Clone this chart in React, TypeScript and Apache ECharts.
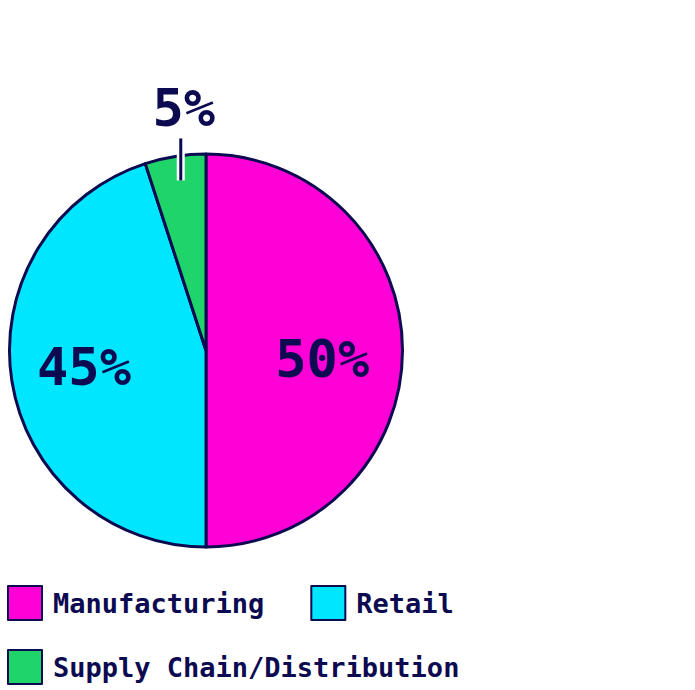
import React, { useEffect, useRef } from "react";
import * as echarts from "echarts";

const categories = ["Manufacturing", "Retail", "Supply Chain/Distribution"];
const values = [50, 45, 5];
const colors = ["#ff00d6", "#00e6ff", "#1fd56a"];
const legendRow1 = ["Manufacturing", "Retail"];
const legendRow2 = ["Supply Chain/Distribution"];
const NAVY = "#0c0a50";
const FONT = "DejaVu Sans Mono";

function makeData(mode: "base" | "white" | "top") {
  return categories.map((name, i) => ({
    name,
    value: values[i],
    itemStyle:
      mode === "base"
        ? { color: colors[i], borderColor: NAVY, borderWidth: 3 }
        : { color: "rgba(0,0,0,0)", borderWidth: 0 },
    label: { position: i === 2 ? "outside" : "inside" },
  }));
}

const layout = (p: any) => {
  if (p.dataIndex === 0) return { dx: 15, dy: 8 };
  if (p.dataIndex === 1) return { dx: -22, dy: 1 };
  const pts = p.labelLinePoints;
  if (!pts) return {};
  const x0 = pts[0][0];
  const y0 = pts[0][1];
  const lx = x0 + 5.5;
  return {
    x: x0 + 8.5,
    y: y0 - 48,
    align: "center",
    verticalAlign: "middle",
    labelLinePoints: [
      [lx, y0 + 24],
      [lx, y0],
      [lx, y0 - 18],
    ],
  };
};

const legendText = {
  color: NAVY,
  fontSize: 27,
  fontWeight: "bold",
  fontFamily: FONT,
  padding: [0, 0, 0, 6],
};

export default function App() {
  const ref = useRef<HTMLDivElement>(null);
  useEffect(() => {
    if (!ref.current) return;
    const chart = echarts.init(ref.current, null, { renderer: "svg" });
    const common = {
      type: "pie",
      center: [206, 350.5],
      radius: 196.5,
      startAngle: 90,
      clockwise: true,
      avoidLabelOverlap: false,
      emphasis: { disabled: true },
    };
    const legendCommon = {
      left: 7,
      padding: 0,
      orient: "horizontal",
      icon: "rect",
      itemWidth: 34,
      itemHeight: 34,
      itemGap: 46,
      selectedMode: false,
      textStyle: legendText,
    };
    chart.setOption({
      animation: false,
      backgroundColor: "#ffffff",
      legend: [
        { ...legendCommon, top: 585, data: legendRow1 },
        { ...legendCommon, top: 649, data: legendRow2 },
      ],
      series: [
        {
          ...common,
          z: 2,
          data: makeData("base"),
          label: { show: false },
          labelLine: { show: false },
        },
        {
          ...common,
          z: 3,
          silent: true,
          data: makeData("white"),
          label: {
            show: true,
            color: "rgba(0,0,0,0)",
            fontSize: 52,
            fontWeight: "bold",
            fontFamily: FONT,
            formatter: "{c}%",
          },
          labelLine: { show: true, lineStyle: { color: "#ffffff", width: 8 } },
          labelLayout: layout,
        },
        {
          ...common,
          z: 4,
          silent: true,
          data: makeData("top"),
          label: {
            show: true,
            color: NAVY,
            fontSize: 52,
            fontWeight: "bold",
            fontFamily: FONT,
            formatter: "{c}%",
          },
          labelLine: { show: true, lineStyle: { color: NAVY, width: 3 } },
          labelLayout: layout,
        },
      ],
    });
    return () => chart.dispose();
  }, []);
  return (
    <div
      ref={ref}
      style={{ position: "fixed", left: 0, top: 0, width: 695, height: 690 }}
    />
  );
}
